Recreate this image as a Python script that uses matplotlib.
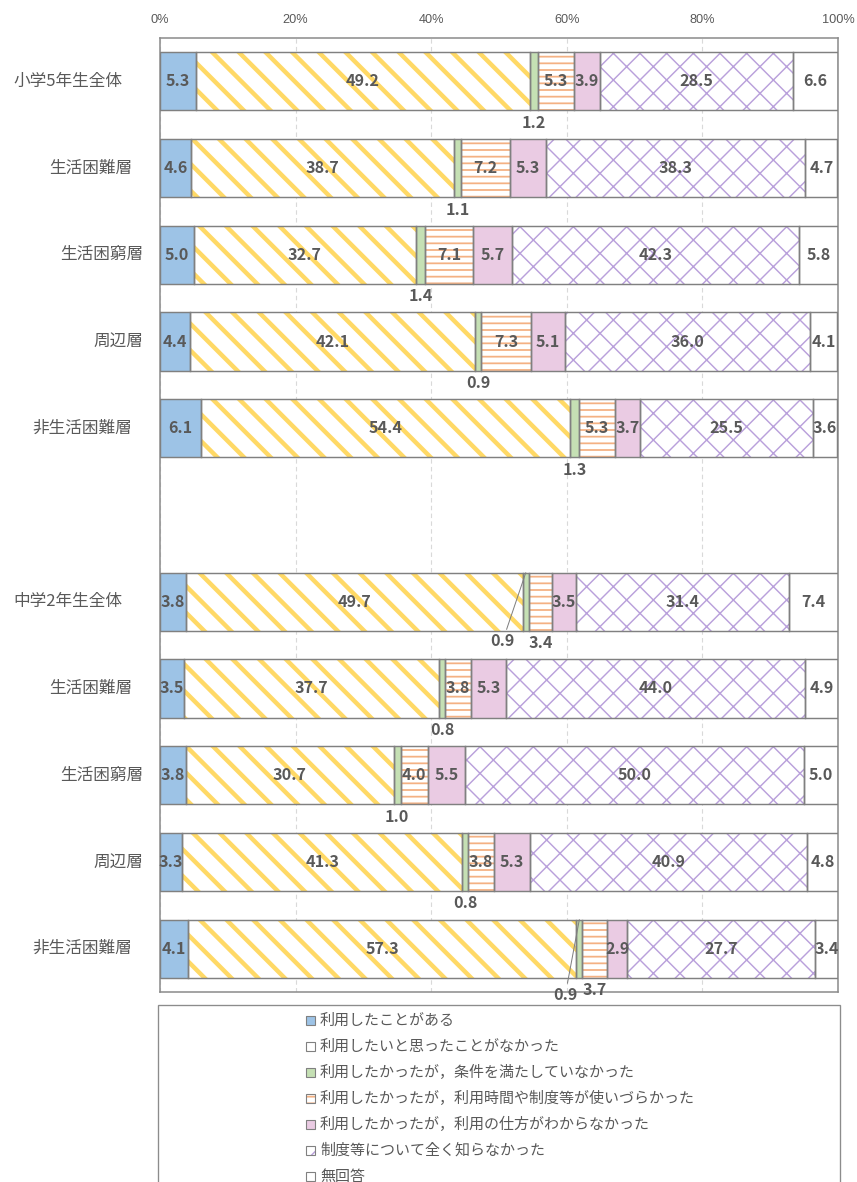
import matplotlib
matplotlib.use("Agg")
import matplotlib.pyplot as plt
import matplotlib.transforms as mtransforms
from matplotlib.patches import Rectangle
from matplotlib import font_manager
import numpy as np

# ---------------- data ----------------
categories = ['小学5年生全体', '生活困難層', '生活困窮層', '周辺層', '非生活困難層',
              '中学2年生全体', '生活困難層', '生活困窮層', '周辺層', '非生活困難層']
series_names = ['利用したことがある',
                '利用したいと思ったことがなかった',
                '利用したかったが，条件を満たしていなかった',
                '利用したかったが，利用時間や制度等が使いづらかった',
                '利用したかったが，利用の仕方がわからなかった',
                '制度等について全く知らなかった',
                '無回答']
s_used = [5.3, 4.6, 5.0, 4.4, 6.1, 3.8, 3.5, 3.8, 3.3, 4.1]
s_never = [49.2, 38.7, 32.7, 42.1, 54.4, 49.7, 37.7, 30.7, 41.3, 57.3]
s_cond = [1.2, 1.1, 1.4, 0.9, 1.3, 0.9, 0.8, 1.0, 0.8, 0.9]
s_hard = [5.3, 7.2, 7.1, 7.3, 5.3, 3.4, 3.8, 4.0, 3.8, 3.7]
s_howto = [3.9, 5.3, 5.7, 5.1, 3.7, 3.5, 5.3, 5.5, 5.3, 2.9]
s_unaware = [28.5, 38.3, 42.3, 36.0, 25.5, 31.4, 44.0, 50.0, 40.9, 27.7]
s_noans = [6.6, 4.7, 5.8, 4.1, 3.6, 7.4, 4.9, 5.0, 4.8, 3.4]
tick_values = [0, 20, 40, 60, 80, 100]
tick_labels = ['0%', '20%', '40%', '60%', '80%', '100%']

series = [s_used, s_never, s_cond, s_hard, s_howto, s_unaware, s_noans]

# ---------------- style / layout ----------------
W, H, DPI = 857, 1182, 80
plt.rcParams['font.family'] = ['Noto Sans CJK JP', 'DejaVu Sans']
names = {f.name for f in font_manager.fontManager.ttflist}
tick_font = 'Liberation Sans Narrow' if 'Liberation Sans Narrow' in names else 'Liberation Sans'

TXT = '#595959'
EDGE = '#808080'
styles = [
    dict(face='#9DC3E6', hatch=None, hc='none', hlw=None),
    dict(face='white', hatch='\\', hc='#FFD966', hlw=4.0),
    dict(face='#C5E0B4', hatch=None, hc='none', hlw=None),
    dict(face='white', hatch='--', hc='#F4B183', hlw=1.6),
    dict(face='#EACBE3', hatch=None, hc='none', hlw=None),
    dict(face='white', hatch='x', hc='#B9A0DB', hlw=1.3),
    dict(face='white', hatch=None, hc='none', hlw=None),
]

ypos = np.array([0, 1, 2, 3, 4, 6, 7, 8, 9, 10], dtype=float)
BAR_H = 0.67
label_left_px = [12, None, None, None, None, 13, None, None, None, None]
label_right_px = [122, 132, 143, 143, 132, 122, 132, 143, 143, 132]

fig = plt.figure(figsize=(W / DPI, H / DPI), dpi=DPI)
ax = fig.add_axes([160 / W, 1 - 992 / H, 678 / W, 954 / H])


def styled_patch_setup(p, st):
    if st['hlw'] is not None and hasattr(p, 'set_hatch_linewidth'):
        p.set_hatch_linewidth(st['hlw'])


left = np.zeros(len(ypos))
lefts = []
for vals, st in zip(series, styles):
    vals = np.array(vals)
    bars = ax.barh(ypos, vals, left=left, height=BAR_H, color=st['face'],
                   edgecolor=st['hc'], linewidth=0, hatch=st['hatch'], zorder=2)
    for b in bars:
        styled_patch_setup(b, st)
    ax.barh(ypos, vals, left=left, height=BAR_H, fill=False,
            edgecolor=EDGE, linewidth=1.3, zorder=3)
    lefts.append(left.copy())
    left = left + vals

ax.set_xlim(0, 100)
ax.set_ylim(10.5, -0.5)
ax.set_yticks([])
ax.set_xticks(tick_values)
ax.set_xticklabels(tick_labels, fontfamily=tick_font, fontsize=11.5, color=TXT)
ax.xaxis.set_ticks_position('top')
ax.tick_params(axis='x', length=0, pad=11)
ax.xaxis.grid(True, linestyle=(0, (4, 3)), color='#D9D9D9', linewidth=1)
ax.set_axisbelow(True)
for sp in ax.spines.values():
    sp.set_color('#8C8C8C')
    sp.set_linewidth(1.4)

# ---------------- value labels ----------------
special = {}
for r in range(len(ypos)):
    special[(r, 2)] = ('below', 0, -12.5)
special[(5, 2)] = ('leader', -23, -68)
special[(5, 3)] = ('below', 0, -12.5)
special[(9, 2)] = ('leader', -14, -75)
special[(9, 3)] = ('below', 0, -12.5)

VFS = 14.5
for j, vals in enumerate(series):
    for r, v in enumerate(vals):
        cx = lefts[j][r] + v / 2
        y = ypos[r]
        kw = dict(ha='center', va='center', fontsize=VFS, fontweight='bold',
                  color=TXT, zorder=5, annotation_clip=False)
        if (r, j) in special:
            mode, dx, dy = special[(r, j)]
            if mode == 'below':
                ax.annotate(f'{v:.1f}', xy=(cx, y + BAR_H / 2), xytext=(dx, dy),
                            textcoords='offset pixels', **kw)
            else:
                ax.annotate(f'{v:.1f}', xy=(cx, y - BAR_H / 2), xytext=(dx, dy),
                            textcoords='offset pixels',
                            arrowprops=dict(arrowstyle='-', color='#7F7F7F', lw=0.9,
                                            shrinkA=1, shrinkB=0), **kw)
        else:
            ax.text(cx, y, f'{v:.1f}', ha='center', va='center', fontsize=VFS,
                    fontweight='bold', color=TXT, zorder=5)

# ---------------- category labels ----------------
trans = mtransforms.blended_transform_factory(fig.transFigure, ax.transData)
for r, cat in enumerate(categories):
    ax.text(label_right_px[r] / W, ypos[r], cat, transform=trans, ha='right',
            va='center', fontsize=15, color=TXT)

# ---------------- legend ----------------
fig.add_artist(Rectangle((158 / W, -0.02), (840 - 158) / W, (1 - 1005 / H) + 0.02,
                         transform=fig.transFigure, fill=False, edgecolor='#8C8C8C',
                         linewidth=1.2))
for i, (name, st) in enumerate(zip(series_names, styles)):
    yc = 1020.7 + 26 * i
    m = Rectangle((306 / W, 1 - (yc + 4.5) / H), 9 / W, 9 / H, transform=fig.transFigure,
                  facecolor=st['face'], edgecolor=st['hc'], linewidth=0, hatch=st['hatch'])
    styled_patch_setup(m, st)
    fig.add_artist(m)
    fig.add_artist(Rectangle((306 / W, 1 - (yc + 4.5) / H), 9 / W, 9 / H,
                             transform=fig.transFigure, fill=False, edgecolor=EDGE,
                             linewidth=1.0))
    fig.text(320 / W, 1 - yc / H, name, ha='left', va='center', fontsize=13.5, color=TXT)

fig.savefig('out.png', dpi=DPI, facecolor='white')
